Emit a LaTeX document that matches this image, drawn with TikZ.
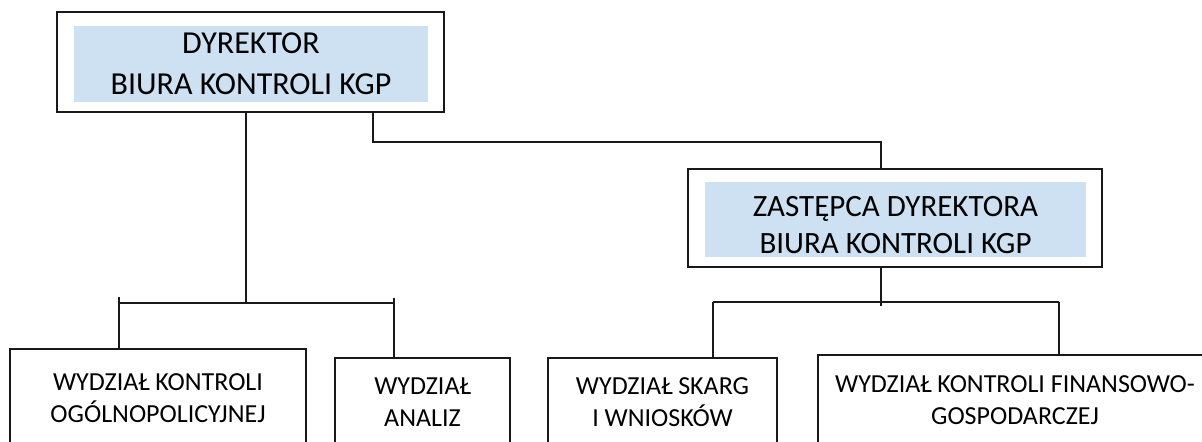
\documentclass[tikz,border=0pt]{standalone}
\usepackage{fontspec}
\setmainfont{Carlito}
\usetikzlibrary{positioning}
\definecolor{tintblue}{RGB}{206,225,242}
\tikzstyle{unit} = [rectangle, draw=black!90, line width=1pt, inner sep=0pt]
\tikzstyle{tint} = [rectangle, fill=tintblue, inner sep=0pt, align=center, font=\fontsize{16}{20.5}\selectfont]
\tikzstyle{dept} = [rectangle, draw=black!90, line width=1pt, anchor=north, inner sep=0pt, align=center, font=\fontsize{13}{16}\selectfont]
\tikzstyle{link} = [draw=black!90, line width=0.8pt]

\begin{document}
\begin{tikzpicture}[x=0.5pt, y=-0.5pt]
  \useasboundingbox (0,0) rectangle (1202,441);
  \clip (0,0) rectangle (1202,441);

  % kierownictwo
  \node (dyr) [unit, minimum width=193.5pt, minimum height=50pt] at (250.5,62) {};
  \node (dyrtxt) [tint, minimum width=177pt, minimum height=38pt] at (251,64) {DYREKTOR\\BIURA KONTROLI KGP};
  \node (zast) [unit, minimum width=207pt, minimum height=49pt] at (895,218) {};
  \node (zastfill) [tint, minimum width=190.5pt, minimum height=37.5pt] at (895.5,219.5) {};
  \node (zasttxt) [align=center, inner sep=0pt, font=\fontsize{15.5}{18.8}\selectfont] at (895.5,225) {ZASTĘPCA DYREKTORA\\BIURA KONTROLI KGP};

  % wydzialy
  \node (wko) [dept, minimum width=148pt, minimum height=49pt] at (158,348) {WYDZIAŁ KONTROLI\\OGÓLNOPOLICYJNEJ};
  \node (wan) [dept, minimum width=87.5pt, minimum height=44.5pt] at (422.5,357) {WYDZIAŁ\\ANALIZ};
  \node (wsw) [dept, minimum width=114.5pt, minimum height=44pt] at (662.5,357) {WYDZIAŁ SKARG\\I WNIOSKÓW};
  \node (wkf) [dept, minimum width=197pt, minimum height=45.5pt] at (1015,354) {WYDZIAŁ KONTROLI FINANSOWO-\\GOSPODARCZEJ};

  % linie
  \coordinate (lbar) at (246,303);
  \coordinate (lbarl) at (119,297);
  \coordinate (lbarr) at (394,298);
  \draw [link] (dyr.south -| lbar) -- (lbar);
  \draw [link] (lbarl |- lbar) -- (lbarr |- lbar);
  \draw [link] (lbarl) -- (lbarl |- wko.north);
  \draw [link] (lbarr) -- (lbarr |- wan.north);

  \coordinate (jog) at (373,142);
  \coordinate (zin) at (881,142);
  \draw [link] (dyr.south -| jog) -- (jog) -- (zin) -- (zin |- zast.north);

  \coordinate (rbar) at (881,302);
  \coordinate (rbarl) at (713,302);
  \coordinate (rbarr) at (1059,302);
  \draw [link] (zast.south -| rbar) -- ([yshift=-2pt]rbar);
  \draw [link] (rbarl) -- (rbarr);
  \draw [link] (rbarl) -- (rbarl |- wsw.north);
  \draw [link] (rbarr) -- (rbarr |- wkf.north);
\end{tikzpicture}
\end{document}
